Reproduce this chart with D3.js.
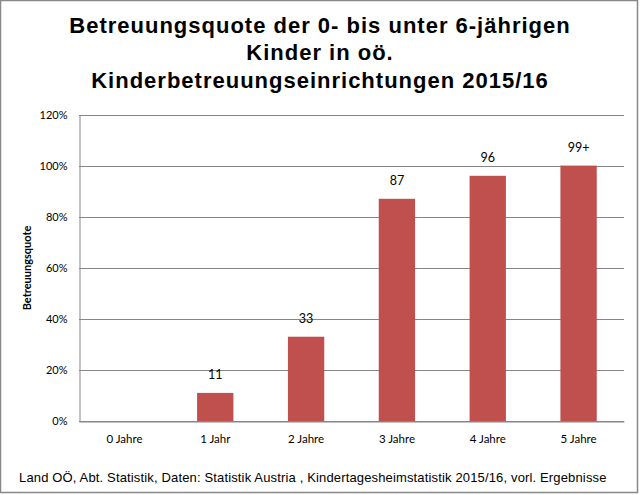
<!DOCTYPE html>
<html>
<head>
<meta charset="utf-8">
<script src="https://cdn.jsdelivr.net/npm/d3@7/dist/d3.min.js"></script>
<style>
  html, body { margin: 0; padding: 0; background: #fff; }
  svg { display: block; }
</style>
</head>
<body>
<script>
const categories = ["0 Jahre", "1 Jahr", "2 Jahre", "3 Jahre", "4 Jahre", "5 Jahre"];
const values = [0, 11, 33, 87, 96, 100];
const valueLabels = ["", "11", "33", "87", "96", "99+"];
const yTicks = [0, 20, 40, 60, 80, 100, 120];
const titleLines = ["Betreuungsquote der 0- bis unter 6-jährigen", "Kinder in oö.", "Kinderbetreuungseinrichtungen 2015/16"];
const yTitle = "Betreuungsquote";
const footer = "Land OÖ, Abt. Statistik, Daten: Statistik Austria , Kindertagesheimstatistik 2015/16, vorl. Ergebnisse";

const W = 641, H = 495;
const m = { left: 79, right: 624, top: 114.5, bottom: 421 };

const svg = d3.select("body").append("svg").attr("width", W).attr("height", H);
svg.append("rect").attr("width", W).attr("height", H).attr("fill", "#fff");
svg.append("rect").attr("x", 0.5).attr("y", 0.5).attr("width", 637).attr("height", 492)
  .attr("fill", "#fff").attr("stroke", "#888").attr("stroke-width", 1.5);

const x = d3.scaleBand().domain(categories).range([m.left, m.right]).paddingInner(0.6).paddingOuter(0.3);
const y = d3.scaleLinear().domain([0, 120]).range([m.bottom, m.top]);

// gridlines
svg.append("g").selectAll("line").data(yTicks).join("line")
  .attr("x1", m.left).attr("x2", m.right)
  .attr("y1", d => Math.round(y(d)) + 0.5).attr("y2", d => Math.round(y(d)) + 0.5)
  .attr("stroke", "#868686").attr("stroke-width", 1);

// y axis
const yAxis = d3.axisLeft(y).tickValues(yTicks).tickFormat(d => d + "%").tickSize(0).tickPadding(12);
const gy = svg.append("g").attr("transform", `translate(${m.left + 0.5},0)`).call(yAxis);
gy.select(".domain").attr("stroke", "#868686");
gy.selectAll("text").attr("font-family", "Lato, 'Open Sans', sans-serif").attr("font-size", "11px").attr("fill", "#000");

// bars
svg.append("g").selectAll("rect").data(values).join("rect")
  .attr("x", (d, i) => x(categories[i]))
  .attr("width", x.bandwidth())
  .attr("y", d => y(d))
  .attr("height", d => y(0) - y(d))
  .attr("fill", "#C0504D");

// x axis
const xAxis = d3.axisBottom(x).tickSize(0).tickPadding(13);
const gx = svg.append("g").attr("transform", `translate(0,${Math.round(y(0)) + 0.5})`).call(xAxis);
gx.select(".domain").attr("stroke", "#868686");
gx.selectAll("text").attr("font-family", "Lato, 'Open Sans', sans-serif").attr("font-size", "11.5px").attr("fill", "#000");

// value labels
svg.append("g").selectAll("text").data(values).join("text")
  .attr("x", (d, i) => x(categories[i]) + x.bandwidth() / 2)
  .attr("y", d => y(d) - 14)
  .attr("text-anchor", "middle")
  .attr("font-family", "Lato, 'Open Sans', sans-serif").attr("font-size", "12.5px").attr("fill", "#000")
  .text((d, i) => valueLabels[i]);

// y title
svg.append("text")
  .attr("transform", `translate(31,268) rotate(-90)`)
  .attr("text-anchor", "middle")
  .attr("font-family", "Lato, 'Open Sans', sans-serif").attr("font-weight", "bold").attr("font-size", "11px")
  .text(yTitle);

// title
svg.append("g").selectAll("text").data(titleLines).join("text")
  .attr("x", 320).attr("y", (d, i) => 33 + i * 27.3)
  .attr("text-anchor", "middle")
  .attr("font-family", "'Liberation Sans', Arial, sans-serif").attr("font-weight", "bold").attr("font-size", "22px")
  .attr("letter-spacing", "1px")
  .text(d => d);

// footer
svg.append("text").attr("x", 19).attr("y", 482)
  .attr("font-family", "'Liberation Sans', Arial, sans-serif").attr("font-size", "13px")
  .attr("letter-spacing", "0.15px")
  .text(footer);
</script>
</body>
</html>
